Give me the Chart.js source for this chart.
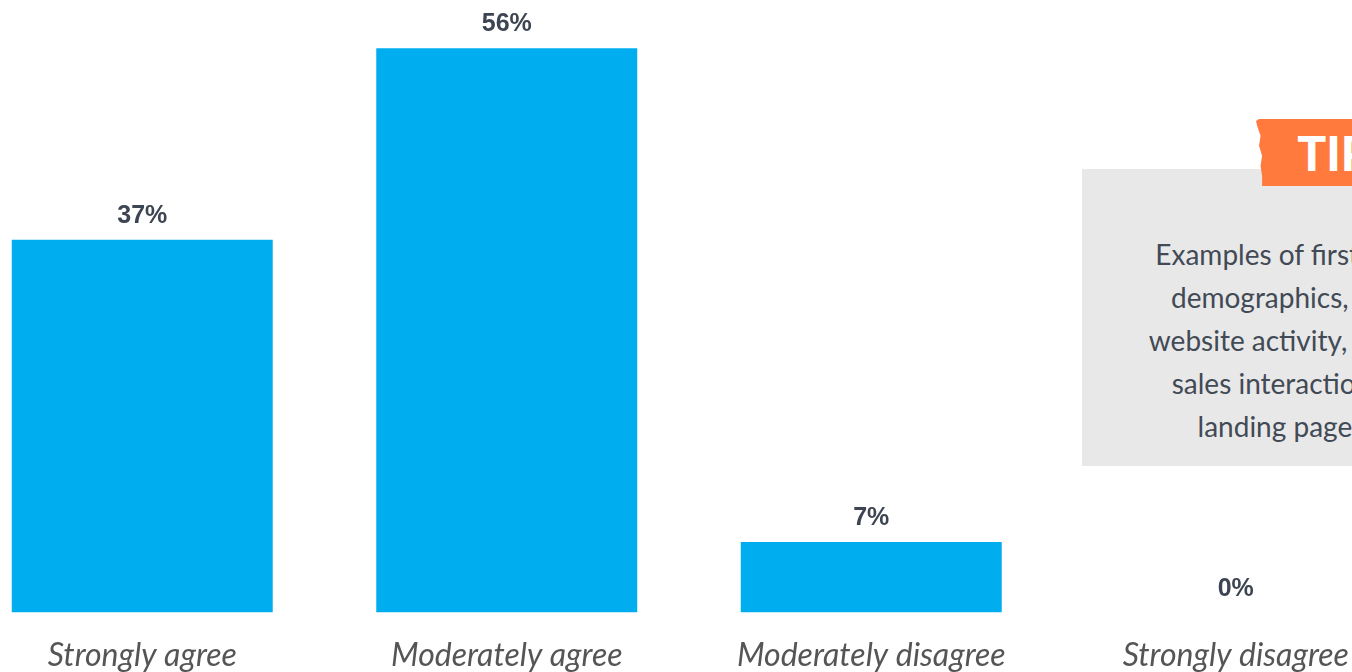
<!DOCTYPE html>
<html>
<head>
<meta charset="utf-8">
<script src="https://cdn.jsdelivr.net/npm/chart.js@4"></script>
<style>
  html, body { margin: 0; padding: 0; background: #fff; overflow: hidden; }
  body { width: 1352px; height: 672px; position: relative; }
  #wrap { position: absolute; left: -40px; top: 0; }
  .tip-box {
    position: absolute; left: 1082px; top: 169px; width: 492px; height: 297px;
    background: #e8e8e8; box-sizing: border-box; padding-top: 64px;
    font-family: Lato, "Open Sans", sans-serif; font-size: 28px; line-height: 43px;
    color: #424a55; text-align: center; white-space: nowrap;
  }
  .tip-tag {
    position: absolute; left: 1256px; top: 119px; width: 152px; height: 67px;
    background: #ff7a3c; color: #fff; text-align: center;
    font-family: Lato, sans-serif; font-weight: 900; font-size: 48px; line-height: 67px;
    padding-left: 4px; box-sizing: border-box;
    clip-path: polygon(0 3%, 2% 0, 100% 0, 100% 100%, 4% 100%, 4% 85%, 3% 70%, 4% 55%, 2% 40%, 3% 25%, 1% 12%);
  }
</style>
</head>
<body>
<div id="wrap"><canvas id="chart" width="1458" height="699"></canvas></div>
<div class="tip-box">
  Examples of first-party data:<br>
  demographics, CRM data,<br>
  website activity, email opens,<br>
  sales interactions, events,<br>
  landing page signups.
</div>
<div class="tip-tag">TIP</div>
<script>
const categories = ["Strongly agree", "Moderately agree", "Moderately disagree", "Strongly disagree"];
const shares = [37, 56, 7, 0];

// percentage above each bar
const valueLabels = {
  id: "valueLabels",
  afterDatasetsDraw(chart) {
    const ctx = chart.ctx;
    const meta = chart.getDatasetMeta(0);
    ctx.save();
    ctx.font = "bold 25px 'Liberation Sans', Arial, sans-serif";
    ctx.fillStyle = "#3e4552";
    ctx.textAlign = "center";
    ctx.textBaseline = "alphabetic";
    meta.data.forEach((bar, i) => {
      ctx.fillText(shares[i] + "%", bar.x, bar.y - 17);
    });
    ctx.restore();
  }
};

new Chart(document.getElementById("chart"), {
  type: "bar",
  data: {
    labels: categories,
    datasets: [{
      data: shares,
      backgroundColor: "#00aeef",
      barPercentage: 0.716,
      categoryPercentage: 1
    }]
  },
  options: {
    responsive: false,
    animation: false,
    layout: { padding: { top: 8, left: 0, right: 0, bottom: 0 } },
    plugins: { legend: { display: false }, tooltip: { enabled: false } },
    scales: {
      x: {
        grid: { display: false, drawTicks: false },
        border: { display: false },
        ticks: {
          color: "#555",
          padding: 24,
          font: { family: "Lato, 'Open Sans', sans-serif", style: "italic", size: 32 }
        }
      },
      y: { display: false, min: 0, max: 60 }
    }
  },
  plugins: [valueLabels]
});
</script>
</body>
</html>
